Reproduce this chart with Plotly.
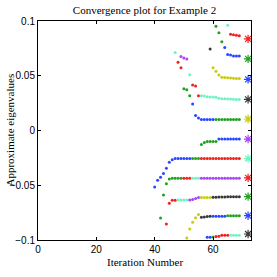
import plotly.graph_objects as go

# ---- data (iteration number, approximate eigenvalue) per colour group ----
blue_x = [40, 41, 42, 43, 44, 45, 46, 47, 48, 49, 50, 51, 52,
          53, 54, 55, 56, 57, 58, 59, 60,
          62, 63, 64, 65, 66, 67, 68, 69,
          58, 59,
          60, 61, 62, 63, 64,
          64,
          65, 66, 67, 68, 69]
blue_y = [-0.0515, -0.0454, -0.0426, -0.0393, -0.0344, -0.0289, -0.0268, -0.0256, -0.0256, -0.0256, -0.0256, -0.0256, -0.0256,
          0.0242, 0.0138, 0.0114, 0.0101, 0.0101, 0.0101, 0.0101, 0.0101,
          -0.0078, -0.0078, -0.0078, -0.0078, -0.0078, -0.0078, -0.0078, -0.0078,
          -0.0975, -0.0975,
          -0.0783, -0.0783, -0.0783, -0.0783, -0.0783,
          0.0757,
          0.0693, 0.0690, 0.0681, 0.0681, 0.0681]

green_x = [42, 43, 44, 45, 46, 47, 48, 49,
           53, 54, 55,
           50, 51, 52,
           56, 57, 58, 59, 60, 61,
           61, 62, 63, 64, 65, 66, 67, 68, 69,
           60,
           65, 66, 67, 68, 69,
           61, 62, 63]
green_y = [-0.0800, -0.0590, -0.0487, -0.0442, -0.0435, -0.0435, -0.0435, -0.0435,
           -0.0256, -0.0256, -0.0256,
           0.0382, 0.0373, 0.0318,
           -0.0128, -0.0110, -0.0100, -0.0100, -0.0100, -0.0100,
           0.0101, 0.0101, 0.0101, 0.0101, 0.0101, 0.0101, 0.0101, 0.0101, 0.0101,
           -0.0972,
           -0.0778, -0.0778, -0.0778, -0.0778, -0.0778,
           0.0953, 0.0892, 0.0810]

red_x = [44, 45, 46, 47,
         50, 51, 52,
         56, 57, 58, 59, 60, 61, 62, 63, 64, 65, 66, 67, 68, 69,
         48, 49,
         53, 54, 55,
         61, 62, 63, 64, 65,
         66, 67, 68, 69]
red_y = [-0.0855, -0.0664, -0.0637, -0.0637,
         -0.0435, -0.0435, -0.0435,
         -0.0256, -0.0256, -0.0256, -0.0256, -0.0256, -0.0256, -0.0256, -0.0256, -0.0256, -0.0256, -0.0256, -0.0256, -0.0256, -0.0256,
         0.0623, 0.0574,
         0.0416, 0.0407, 0.0318,
         -0.0968, -0.0965, -0.0957, -0.0957, -0.0957,
         0.0879, 0.0874, 0.0870, 0.0865]

aqua_x = [48, 49, 50, 51,
          53, 54, 55,
          47, 52,
          56, 57, 58, 59, 60, 61, 62, 63, 64, 65, 66, 67, 68, 69,
          66, 67, 68, 69,
          65]
aqua_y = [-0.0635, -0.0635, -0.0635, -0.0635,
          -0.0435, -0.0435, -0.0435,
          0.0712, 0.0510,
          0.0318, 0.0316, 0.0309, 0.0306, 0.0306, 0.0303, 0.0294, 0.0291, 0.0291, 0.0288, 0.0288, 0.0285, 0.0284, 0.0284,
          -0.0957, -0.0957, -0.0957, -0.0957,
          0.0962]

purple_x = [49, 50, 51,
            52, 53, 54, 55,
            56, 57, 58, 59, 60, 61, 62, 63, 64, 65, 66, 67, 68, 69]
purple_y = [0.0675, 0.0663, 0.0654,
            -0.0634, -0.0631, -0.0622, -0.0613,
            -0.0435, -0.0435, -0.0435, -0.0435, -0.0435, -0.0435, -0.0435, -0.0435, -0.0435, -0.0435, -0.0435, -0.0435, -0.0435, -0.0435]

yg_x = [51, 52, 53, 54, 55,
        56, 57, 58, 59,
        60, 61, 62, 63, 64, 65, 66, 67, 68, 69]
yg_y = [-0.0982, -0.0900, -0.0838, -0.0796, -0.0768,
        -0.0613, -0.0613, -0.0613, -0.0613,
        0.0574, 0.0540, 0.0507, 0.0486, 0.0484, 0.0482, 0.0480, 0.0478, 0.0476, 0.0474]

black_x = [56, 57, 58, 59,
           60, 61, 62, 63, 64, 65, 66, 67, 68, 69,
           59]
black_y = [-0.0792, -0.0789, -0.0786, -0.0783,
           -0.0609, -0.0609, -0.0608, -0.0608, -0.0607, -0.0606, -0.0605, -0.0605, -0.0604, -0.0604,
           0.0745]

# exact eigenvalues (asterisks) and their colour groups
exact_iter = 72
exact_vals = [0.0837, 0.0654, 0.0467, 0.0284, 0.0105, -0.0078, -0.0256, -0.0433, -0.0604, -0.0778, -0.0945]
exact_groups = ["red", "green", "blue", "black", "yg", "purple", "aqua", "red", "green", "blue", "black"]

colors = {
    "blue": "#2a46ff",
    "green": "#22a022",
    "red": "#f02020",
    "aqua": "#70f2c4",
    "purple": "#a545f8",
    "yg": "#c8cc10",
    "black": "#383838",
}

series = [
    ("blue", blue_x, blue_y),
    ("green", green_x, green_y),
    ("red", red_x, red_y),
    ("aqua", aqua_x, aqua_y),
    ("purple", purple_x, purple_y),
    ("yg", yg_x, yg_y),
    ("black", black_x, black_y),
]

fig = go.Figure()
for name, xs, ys in series:
    fig.add_trace(go.Scatter(
        x=xs, y=ys, mode="markers", name=name, showlegend=False,
        marker=dict(symbol="circle", size=3, color=colors[name], line=dict(width=0)),
    ))

fig.add_trace(go.Scatter(
    x=[exact_iter] * len(exact_vals), y=exact_vals, mode="markers", showlegend=False,
    marker=dict(symbol="asterisk-open", size=7,
                color=[colors[g] for g in exact_groups],
                line=dict(width=1.2, color=[colors[g] for g in exact_groups])),
))

axis_common = dict(
    showgrid=False, zeroline=False, showline=True, linecolor="black", linewidth=1,
    mirror="ticks", ticks="inside", ticklen=3, tickcolor="black", automargin=False,
    tickfont=dict(family="Liberation Sans, Arial, sans-serif", size=10, color="black"),
)

fig.update_layout(
    width=277, height=277,
    margin=dict(l=38, r=26, t=21, b=37),
    paper_bgcolor="white", plot_bgcolor="white",
    title=dict(text="Convergence plot for Example 2", xref="paper", x=0.5, xanchor="center",
               yref="container", y=1 - 10 / 277, yanchor="middle",
               font=dict(family="Liberation Serif, Times New Roman, serif", size=11, color="black")),
    xaxis=dict(range=[0, 73], tickvals=[0, 20, 40, 60], **axis_common),
    yaxis=dict(range=[-0.1, 0.1], tickvals=[-0.1, -0.05, 0, 0.05, 0.1],
               ticktext=["\u22120.1", "\u22120.05", "0", "0.05", "0.1"], **axis_common),
    annotations=[
        dict(text="Iteration Number", xref="paper", yref="paper", x=0.5, y=0,
             yshift=-22, xanchor="center", yanchor="middle", showarrow=False,
             font=dict(family="Liberation Serif, Times New Roman, serif", size=11, color="black")),
        dict(text="Approximate eigenvalues", xref="paper", yref="paper", x=0, y=0.5,
             xshift=-29, xanchor="center", yanchor="middle", textangle=-90, showarrow=False,
             font=dict(family="Liberation Serif, Times New Roman, serif", size=11, color="black")),
    ],
)

# remove the browser's default 8px body margin so the 277px figure fills the window
fig.write_html("out.html", config={"displayModeBar": False},
               post_script="document.body.style.margin='0px';")
